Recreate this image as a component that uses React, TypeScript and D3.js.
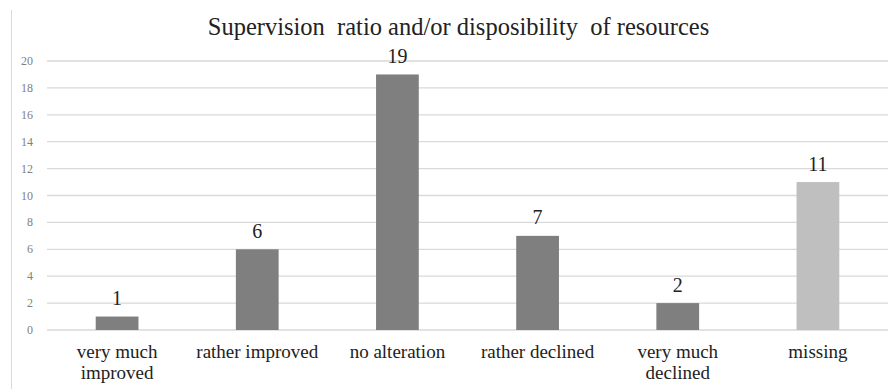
import React from "react";
import * as d3 from "d3";

const categories: string[][] = [
  ["very much", "improved"],
  ["rather improved"],
  ["no alteration"],
  ["rather declined"],
  ["very much", "declined"],
  ["missing"],
];
const values: number[] = [1, 6, 19, 7, 2, 11];
const barColors: string[] = ["#7f7f7f", "#7f7f7f", "#7f7f7f", "#7f7f7f", "#7f7f7f", "#bfbfbf"];
const yTicks: number[] = [0, 2, 4, 6, 8, 10, 12, 14, 16, 18, 20];
const title = "Supervision  ratio and/or disposibility  of resources";

export default function App() {
  const W = 893, H = 389;
  const x0 = 47, x1 = 888, yTop = 61, yBot = 330;
  const x = d3.scaleBand<number>().domain(d3.range(values.length)).range([x0, x1]).paddingInner(0.695).paddingOuter(0.3475);
  const y = d3.scaleLinear().domain([0, 20]).range([yBot, yTop]);
  const font = "Liberation Serif, serif";
  return (
    <svg width={W} height={H} style={{ position: "absolute", left: 0, top: 0, background: "#fff" }}>
      <line x1={11.5} x2={11.5} y1={10} y2={H} stroke="#d9d9d9" strokeWidth={1} />
      <text x={458.5} y={35} textAnchor="middle" fontFamily={font} fontSize={24.5} fill="#222" style={{ whiteSpace: "pre" }}>{title}</text>
      {yTicks.map((t) => (
        <g key={t}>
          <line x1={x0} x2={x1} y1={y(t)} y2={y(t)} stroke="#d9d9d9" strokeWidth={1.3} />
          <text x={33} y={y(t) + 4} textAnchor="end" fontFamily={font} fontSize={12} fill="#808080">{t}</text>
        </g>
      ))}
      {values.map((v, i) => (
        <g key={i}>
          <rect x={x(i)} y={y(v)} width={x.bandwidth()} height={y(0) - y(v)} fill={barColors[i]} />
          <text x={(x(i) as number) + x.bandwidth() / 2} y={y(v) - 11.5} textAnchor="middle" fontFamily={font} fontSize={20} fill="#222">{v}</text>
          {categories[i].map((line, j) => (
            <text key={j} x={(x(i) as number) + x.bandwidth() / 2} y={357.5 + j * 21} textAnchor="middle" fontFamily={font} fontSize={19} fill="#222">{line}</text>
          ))}
        </g>
      ))}
    </svg>
  );
}
